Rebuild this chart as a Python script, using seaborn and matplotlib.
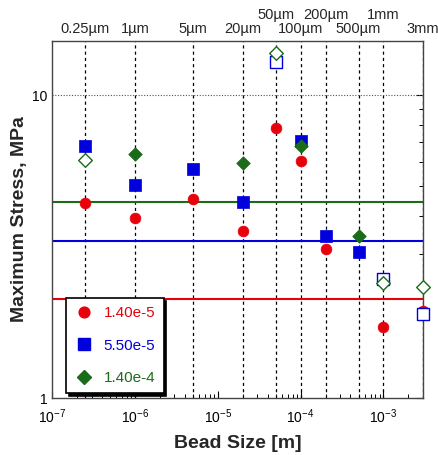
import numpy as np
import pandas as pd
import matplotlib
matplotlib.use("Agg")
import matplotlib.pyplot as plt
import seaborn as sns
from matplotlib.ticker import LogLocator, NullFormatter, FixedLocator

sns.set_style("white")
plt.rcParams['font.family'] = ['Liberation Sans', 'DejaVu Sans']
plt.rcParams['mathtext.fontset'] = 'custom'
plt.rcParams['mathtext.rm'] = 'Liberation Sans'
plt.rcParams['mathtext.it'] = 'Liberation Sans:italic'
plt.rcParams['mathtext.bf'] = 'Liberation Sans:bold'

# ---- data ----
bead_size = [2.5e-7, 1e-6, 5e-6, 2e-5, 5e-5, 1e-4, 2e-4, 5e-4, 1e-3, 3e-3]
size_labels = ["0.25\u00b5m", "1\u00b5m", "5\u00b5m", "20\u00b5m", "50\u00b5m",
               "100\u00b5m", "200\u00b5m", "500\u00b5m", "1mm", "3mm"]
raised_label = [False, False, False, False, True, False, True, False, True, False]

series_names = ["1.40e-5", "5.50e-5", "1.40e-4"]
stress_red = [4.39, 3.92, 4.54, 3.56, 7.80, 6.04, 3.10, np.nan, 1.72, 1.94]
stress_blue = [6.80, 5.07, 5.69, 4.44, 12.85, 7.07, 3.44, 3.04, 2.47, 1.89]
stress_green = [6.13, 6.38, np.nan, 5.97, 13.8, 6.79, np.nan, 3.43, 2.39, 2.32]
open_red = [False] * 10
open_blue = [False, False, False, False, True, False, False, False, True, True]
open_green = [True, False, False, False, True, False, False, False, True, True]
avg_level = [2.12, 3.30, 4.44]

colors = ["#e8000b", "#0000dd", "#1a6b1a"]
markers = ["o", "s", "D"]
sizes = [60, 70, 48]

frames = []
for name, vals, opn in zip(series_names,
                           [stress_red, stress_blue, stress_green],
                           [open_red, open_blue, open_green]):
    frames.append(pd.DataFrame({"size": bead_size, "stress": vals,
                                "series": name, "open": opn}))
df = pd.concat(frames, ignore_index=True).dropna()

fig = plt.figure(figsize=(4.38, 4.55), dpi=100)
ax = fig.add_axes([52/438, 57/455, 371/438, 357/455])
ax.set_xscale("log")
ax.set_yscale("log")
ax.set_xlim(1e-7, 3e-3)
ax.set_ylim(1, 15.1)

# reference lines
for x in bead_size:
    ax.axvline(x, color="black", lw=0.9, ls=(0, (2.5, 2.5)), zorder=1)
ax.axhline(10, color="#555555", lw=0.8, ls=(0, (1, 1.5)), zorder=1)
for lvl, c in zip(avg_level, colors):
    ax.axhline(lvl, color=c, lw=1.5, zorder=2)

handles = []
for i, (name, c, m, s) in enumerate(zip(series_names, colors, markers, sizes)):
    sub = df[df["series"] == name]
    filled = sub[~sub["open"]]
    hollow = sub[sub["open"]]
    sns.scatterplot(data=filled, x="size", y="stress", marker=m, s=s,
                    color=c, edgecolor=c, linewidth=0.5, ax=ax,
                    zorder=3 + i, legend=False, clip_on=False)
    if len(hollow):
        sns.scatterplot(data=hollow, x="size", y="stress", marker=m, s=s,
                        facecolor="white", edgecolor=c, linewidth=1.0,
                        ax=ax, zorder=3 + i, legend=False, clip_on=False)
    handles.append(plt.Line2D([], [], ls="none", marker=m, color=c,
                              markersize=np.sqrt(s), markeredgecolor=c))

# ticks
ax.tick_params(which="both", direction="in", top=True, right=True,
               labelsize=10, colors="black")
ax.tick_params(axis="x", which="major", pad=6.5)
ax.tick_params(which="major", length=5, width=0.8)
ax.tick_params(which="minor", length=3, width=0.7)
ax.xaxis.set_major_locator(LogLocator(base=10, numticks=12))
ax.xaxis.set_minor_locator(LogLocator(base=10, subs=np.arange(2, 10), numticks=12))
ax.xaxis.set_minor_formatter(NullFormatter())
ax.yaxis.set_minor_formatter(NullFormatter())
ax.yaxis.set_major_locator(FixedLocator([1, 10]))
ax.set_yticklabels(["1", "10"])
for sp in ax.spines.values():
    sp.set_color("#444444")
    sp.set_linewidth(1.0)

ax.set_xlabel("Bead Size [m]", fontsize=14, fontweight="bold", labelpad=7)
ax.set_ylabel("Maximum Stress, MPa", fontsize=14, fontweight="bold", labelpad=3)

# top labels
ax2 = ax.twiny()
ax2.set_xscale("log")
ax2.set_xlim(ax.get_xlim())
ax2.xaxis.set_major_locator(FixedLocator(bead_size))
ax2.xaxis.set_minor_locator(FixedLocator([]))
ax2.set_xticklabels(size_labels)
ax2.tick_params(axis="x", length=0, labelsize=10.5)
for t, r in zip(ax2.xaxis.get_major_ticks(), raised_label):
    t.set_pad(14 if r else 3.5)
for sp in ax2.spines.values():
    sp.set_visible(False)

leg = ax.legend(handles, series_names, loc="lower left",
                bbox_to_anchor=(0.038, 0.013), borderaxespad=0,
                frameon=True, fancybox=False,
                shadow={"color": "black", "alpha": 1.0}, fontsize=11,
                labelspacing=1.2, handletextpad=0.6, borderpad=0.55,
                handlelength=1.3)
leg.get_frame().set_edgecolor("black")
leg.get_frame().set_linewidth(1.2)
for txt, c in zip(leg.get_texts(), colors):
    txt.set_color(c)

fig.savefig("out.png", dpi=100)
